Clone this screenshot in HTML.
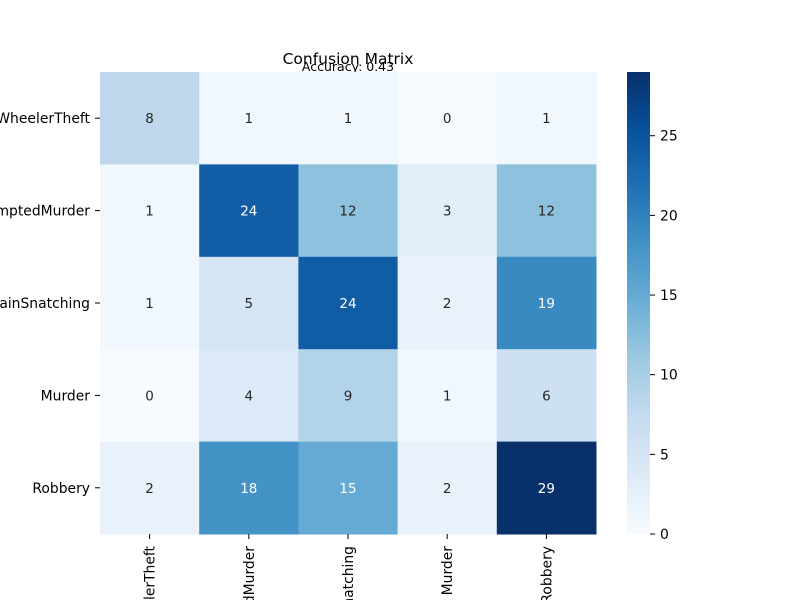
<!DOCTYPE html>
<html><head><meta charset="utf-8"><style>html,body{margin:0;background:#fff;width:800px;height:600px;overflow:hidden}svg{display:block;font-family:"DejaVu Sans","Liberation Sans",sans-serif}</style></head>
<body>
<svg id="c" width="800" height="600" viewBox="0 0 800 600">
<text x="348" y="64" text-anchor="middle" font-size="15.5">Confusion Matrix</text>
<text x="348" y="71" text-anchor="middle" font-size="12.5">Accuracy: 0.43</text>
<defs><linearGradient id="g" x1="0" y1="1" x2="0" y2="0">
<stop offset="0" stop-color="#f7fbff"/><stop offset="0.125" stop-color="#deebf7"/><stop offset="0.25" stop-color="#c6dbef"/><stop offset="0.375" stop-color="#9ecae1"/><stop offset="0.5" stop-color="#6baed6"/><stop offset="0.625" stop-color="#4292c6"/><stop offset="0.75" stop-color="#2171b5"/><stop offset="0.875" stop-color="#08519c"/><stop offset="1" stop-color="#08306b"/></linearGradient></defs>
<g id="cells"></g>
</svg>
<script>
const categories=["TwoWheelerTheft","AttemptedMurder","ChainSnatching","Murder","Robbery"];
const matrix=[[8,1,1,0,1],[1,24,12,3,12],[1,5,24,2,19],[0,4,9,1,6],[2,18,15,2,29]];
const cbTicks=[0,5,10,15,20,25];
const vmin=0,vmax=29;
const X0=100,X1=596,Y0=72,Y1=534;
const ns="http://www.w3.org/2000/svg",svg=document.getElementById('c'),g=document.getElementById('cells');
const stops=[[247,251,255],[222,235,247],[198,219,239],[158,202,225],[107,174,214],[66,146,198],[33,113,181],[8,81,156],[8,48,107]];
function cmap(t){t=Math.max(0,Math.min(1,t))*8;const i=Math.min(7,Math.floor(t)),f=t-i;return stops[i].map((v,k)=>Math.round(v+(stops[i+1][k]-v)*f));}
function lum(c){const l=c.map(v=>{v/=255;return v<=0.03928?v/12.92:Math.pow((v+0.055)/1.055,2.4)});return 0.2126*l[0]+0.7152*l[1]+0.0722*l[2];}
const n=categories.length,cw=(X1-X0)/n,ch=(Y1-Y0)/n;
function mk(t,a,p){const e=document.createElementNS(ns,t);for(const k in a)e.setAttribute(k,a[k]);(p||svg).appendChild(e);return e;}
matrix.forEach((row,r)=>row.forEach((v,c)=>{
 const col=cmap((v-vmin)/(vmax-vmin));
 const rc=mk('rect',{x:X0+c*cw,y:Y0+r*ch,width:cw+0.5,height:ch+0.5,fill:`rgb(${col})`},g);
 
 
 const t=mk('text',{x:X0+(c+0.5)*cw,y:Y0+(r+0.5)*ch+5,'text-anchor':'middle','font-size':13.5,fill:lum(col)<0.408?'#fff':'#262626'},g);
 t.textContent=v;
 
 
}));
categories.forEach((name,i)=>{
 const y=Y0+(i+0.5)*ch;
 mk('line',{x1:X0-5,x2:X0,y1:y,y2:y,stroke:'#000'});
 const t=mk('text',{x:X0-10,y:y+5,'text-anchor':'end','font-size':13.9});
 t.textContent=name;
 
 
 const x=X0+(i+0.5)*cw;
 mk('line',{x1:x,x2:x,y1:Y1,y2:Y1+5,stroke:'#000'});
 const tx=mk('text',{x:0,y:0,'text-anchor':'end','font-size':13.9,transform:`translate(${x+5},${Y1+12}) rotate(-90)`});
 tx.textContent=name;
 
 
});
const CX=627,CW=23;
const cb=mk('rect',{x:CX,y:Y0,width:CW,height:Y1-Y0,fill:'url(#g)'});


cbTicks.forEach(v=>{
 const y=Y1-(v-vmin)/(vmax-vmin)*(Y1-Y0);
 mk('line',{x1:CX+CW,x2:CX+CW+5,y1:y,y2:y,stroke:'#000'});
 const t=mk('text',{x:CX+CW+10,y:y+5,'font-size':13.9});
 t.textContent=v;
 
 
});
</script>
</body></html>
